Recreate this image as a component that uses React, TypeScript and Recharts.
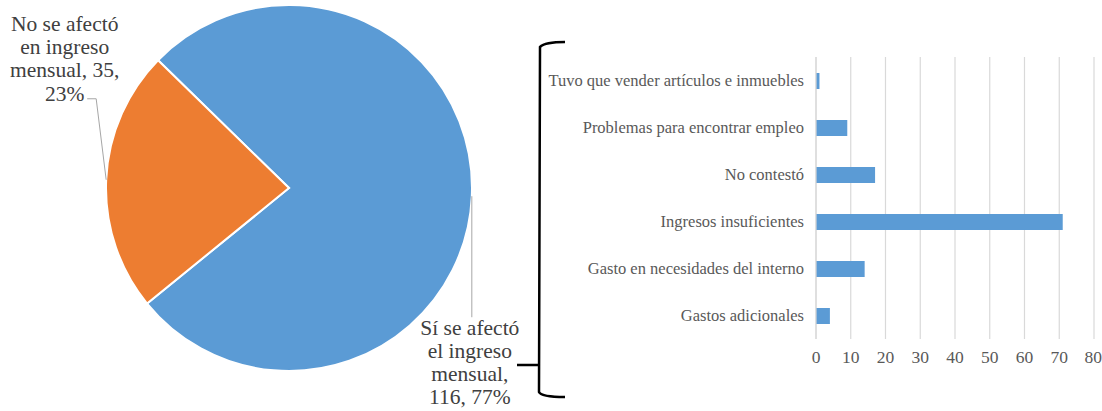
import { Bar, BarChart, CartesianGrid, Cell, Pie, PieChart, XAxis, YAxis } from 'recharts';

const pieNames = ['Sí se afectó el ingreso mensual', 'No se afectó en ingreso mensual'];
const pieValues = [116, 35];
const pieLabelLines = [
  ['Sí se afectó', 'el ingreso', 'mensual,', '116, 77%'],
  ['No se afectó', 'en ingreso', 'mensual, 35,', '23%'],
];
const pieColors = ['#5b9bd5', '#ed7d31'];

const reasons = [
  'Tuvo que vender artículos e inmuebles',
  'Problemas para encontrar empleo',
  'No contestó',
  'Ingresos insuficientes',
  'Gasto en necesidades del interno',
  'Gastos adicionales',
];
const reasonCounts = [1, 9, 17, 71, 14, 4];
const countTicks = [0, 10, 20, 30, 40, 50, 60, 70, 80];

const pieData = pieNames.map((name, i) => ({ name, value: pieValues[i] }));
const barData = reasons.map((name, i) => ({ name, value: reasonCounts[i] }));

const FONT = "'Liberation Serif', 'Times New Roman', serif";
const RAD = Math.PI / 180;

function PieLabel(props: any) {
  const { cx, cy, midAngle, outerRadius, index } = props;
  const sx = cx + outerRadius * Math.cos(-midAngle * RAD);
  const sy = cy + outerRadius * Math.sin(-midAngle * RAD);
  const lines = pieLabelLines[index];
  if (index === 0) {
    // leader goes straight down, label underneath
    const ey = sy + 121;
    return (
      <g>
        <polyline points={`${sx},${sy} ${sx},${ey}`} fill="none" stroke="#a6a6a6" strokeWidth={1} />
        <text x={sx - 2} y={ey + 18} textAnchor="middle" fill="#404040" style={{ fontSize: 21.5, fontFamily: FONT }}>
          {lines.map((l, k) => (
            <tspan key={k} x={sx - 2} dy={k === 0 ? 0 : 23}>
              {l}
            </tspan>
          ))}
        </text>
      </g>
    );
  }
  const ex = sx - 10;
  const ey = sy - 81;
  return (
    <g>
      <polyline points={`${sx},${sy} ${ex},${ey} ${ex - 9},${ey}`} fill="none" stroke="#a6a6a6" strokeWidth={1} />
      <text x={sx - 41.5} y={ey - 68} textAnchor="middle" fill="#404040" style={{ fontSize: 21.5, fontFamily: FONT }}>
        {lines.map((l, k) => (
          <tspan key={k} x={sx - 41.5} dy={k === 0 ? 0 : 23.3}>
            {l}
          </tspan>
        ))}
      </text>
    </g>
  );
}

export default function App() {
  return (
    <div
      style={{
        position: 'absolute',
        left: 0,
        top: 0,
        width: 1102,
        height: 411,
        background: '#fff',
        fontFamily: FONT,
      }}
    >
      <div style={{ position: 'absolute', left: 0, top: 0 }}>
        <PieChart width={580} height={411} margin={{ top: 0, right: 0, bottom: 0, left: 0 }}>
          <Pie
            data={pieData}
            dataKey="value"
            nameKey="name"
            cx={289}
            cy={188}
            outerRadius={183}
            startAngle={135.7}
            endAngle={-224.3}
            stroke="#fff"
            strokeWidth={2}
            label={PieLabel}
            labelLine={false}
            isAnimationActive={false}
          >
            {pieData.map((_, i) => (
              <Cell key={i} fill={pieColors[i]} />
            ))}
          </Pie>
        </PieChart>
      </div>

      <svg style={{ position: 'absolute', left: 0, top: 0 }} width={1102} height={411}>
        <path
          d="M565,42 Q545,42 540,47 L539,392 Q541,397 565,397 M517,365 L539,365"
          fill="none"
          stroke="#000"
          strokeWidth={2.5}
        />
      </svg>

      <div style={{ position: 'absolute', left: 545, top: 0 }}>
        <BarChart
          width={557}
          height={411}
          data={barData}
          layout="vertical"
          margin={{ top: 57, right: 8, bottom: 42, left: 0 }}
        >
          <CartesianGrid horizontal={false} stroke="#d9d9d9" strokeWidth={1.2} />
          <XAxis
            type="number"
            domain={[0, 80]}
            ticks={countTicks}
            axisLine={false}
            tickLine={false}
            tickMargin={6}
            height={30}
            tick={{ fill: '#595959', fontSize: 17.5, style: { fontFamily: FONT } }}
          />
          <YAxis
            type="category"
            dataKey="name"
            width={271}
            axisLine={{ stroke: '#d9d9d9', strokeWidth: 1.2 }}
            tickLine={false}
            tickMargin={6}
            interval={0}
            tick={{ fill: '#595959', fontSize: 16.5, style: { fontFamily: FONT } }}
          />
          <Bar dataKey="value" fill="#5b9bd5" barSize={16} isAnimationActive={false} />
        </BarChart>
      </div>
    </div>
  );
}
